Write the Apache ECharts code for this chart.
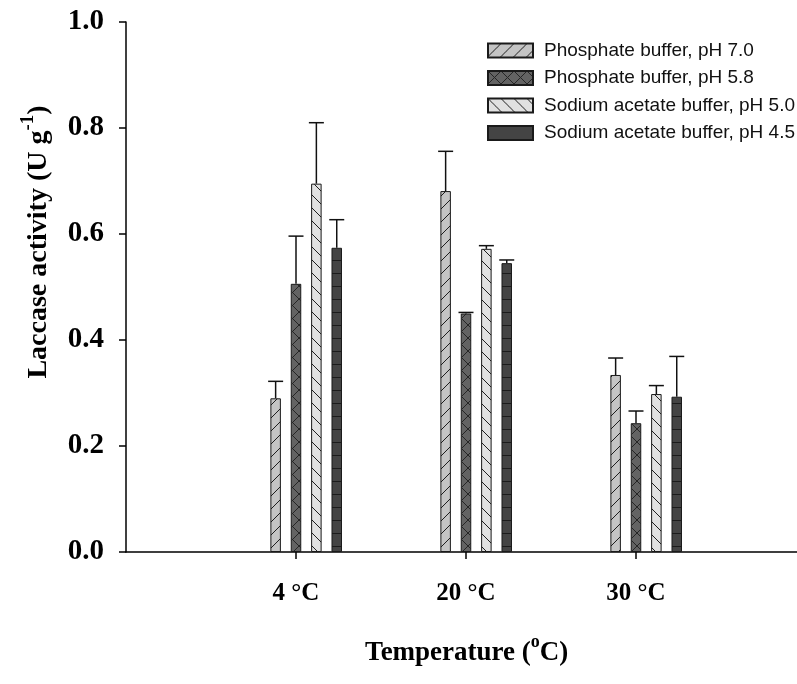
<!DOCTYPE html>
<html><head><meta charset="utf-8">
<script src="https://cdn.jsdelivr.net/npm/echarts@6/dist/echarts.min.js"></script>
<style>html,body{margin:0;padding:0;background:#fff}#c{width:797px;height:684px}</style>
</head><body><div id="c"></div>
<script>
// ---- data ----
const categories = ['4 °C', '20 °C', '30 °C'];
const seriesNames = ['Phosphate buffer, pH 7.0', 'Phosphate buffer, pH 5.8', 'Sodium acetate buffer, pH 5.0', 'Sodium acetate buffer, pH 4.5'];
const phos70 = [0.290, 0.681, 0.334];
const phos70Err = [0.032, 0.075, 0.032];
const phos58 = [0.506, 0.450, 0.243];
const phos58Err = [0.090, 0.002, 0.023];
const sod50 = [0.695, 0.572, 0.298];
const sod50Err = [0.115, 0.006, 0.016];
const sod45 = [0.574, 0.545, 0.293];
const sod45Err = [0.053, 0.006, 0.076];
const yMin = 0, yMax = 1.0, yStep = 0.2;

// ---- patterns ----
const P = 13;
function makePattern(bg, lineColor, draw) {
  const c = document.createElement('canvas');
  c.width = P; c.height = P;
  const g = c.getContext('2d');
  g.fillStyle = bg; g.fillRect(0, 0, P, P);
  g.strokeStyle = lineColor; g.lineWidth = 1;
  g.beginPath(); draw(g); g.stroke();
  return { image: c, repeat: 'repeat' };
}
function fwd(g) { g.moveTo(-1, P + 1); g.lineTo(P + 1, -1); g.moveTo(-2, 2); g.lineTo(2, -2); g.moveTo(P - 2, P + 2); g.lineTo(P + 2, P - 2); }
function back(g) { g.moveTo(-1, -1); g.lineTo(P + 1, P + 1); g.moveTo(P - 2, -2); g.lineTo(P + 2, 2); g.moveTo(-2, P - 2); g.lineTo(2, P + 2); }
const patterns = [
  makePattern('#c4c4c4', '#1e1e1e', fwd),
  makePattern('#636363', '#262626', g => { fwd(g); back(g); }),
  makePattern('#e1e1e1', '#1e1e1e', back),
  makePattern('#444444', '#1c1c1c', g => { g.moveTo(0, 0.5); g.lineTo(P, 0.5); })
];

const values = [phos70, phos58, sod50, sod45];
const errors = [phos70Err, phos58Err, sod50Err, sod45Err];

const BAR_W = 10.5, BAR_GAP = 0.94;
const pitch = BAR_W * (1 + BAR_GAP);
const pad = v => ['-'].concat(v, ['-']);

const series = [{
  name: '_pad', type: 'bar', barWidth: BAR_W, barGap: (BAR_GAP * 100) + '%',
  data: pad(categories.map(() => '-')), silent: true, itemStyle: { opacity: 0 }
}];
values.forEach((v, k) => {
  series.push({
    name: seriesNames[k], type: 'bar', barWidth: BAR_W, barGap: (BAR_GAP * 100) + '%',
    data: pad(v),
    itemStyle: { color: patterns[k], borderColor: '#1a1a1a', borderWidth: 1 },
    z: 2
  });
});
values.forEach((v, k) => {
  const offset = (k + 1 - 2) * pitch;
  series.push({
    name: 'err' + k, type: 'custom', z: 3, silent: true,
    data: v.map((y, i) => [i + 1, y, errors[k][i]]),
    renderItem(params, api) {
      const xi = api.value(0), y = api.value(1), e = api.value(2);
      const b = api.coord([xi, y]);
      const t = api.coord([xi, y + e]);
      const x = b[0] + offset;
      const st = { stroke: '#111', lineWidth: 1.5 };
      return { type: 'group', children: [
        { type: 'line', shape: { x1: x, y1: b[1], x2: x, y2: t[1] }, style: st },
        { type: 'line', shape: { x1: x - 7.5, y1: t[1], x2: x + 7.5, y2: t[1] }, style: st }
      ]};
    }
  });
});

const serif = "'Liberation Serif', 'Times New Roman', serif";
const chart = echarts.init(document.getElementById('c'), null, { renderer: 'canvas' });
chart.setOption({
  animation: false,
  backgroundColor: '#fff',
  grid: { left: 126, top: 22, width: 680, height: 530, containLabel: false, outerBoundsMode: 'none' },
  legend: {
    data: seriesNames, orient: 'vertical', left: 482, top: 36,
    itemWidth: 45, itemHeight: 14, itemGap: 8.5, icon: 'rect',
    textStyle: { fontFamily: "'Liberation Sans', Arial, sans-serif", fontSize: 19, lineHeight: 19, color: '#111', padding: [0, 0, 0, 6] }
  },
  xAxis: {
    type: 'category', boundaryGap: false, data: [''].concat(categories, ['']),
    axisLine: { show: true, lineStyle: { color: '#000', width: 1.5 } },
    axisTick: { show: true, length: 7, interval: (i) => i > 0 && i <= categories.length, lineStyle: { color: '#000', width: 1.5 } },
    axisLabel: { interval: 0, margin: 29, fontFamily: serif, fontWeight: 'bold', fontSize: 25, color: '#000' },
    splitLine: { show: false }
  },
  yAxis: {
    type: 'value', min: yMin, max: yMax, interval: yStep,
    axisLine: { show: true, lineStyle: { color: '#000', width: 1.5 } },
    axisTick: { show: true, length: 7, lineStyle: { color: '#000', width: 1.5 } },
    axisLabel: { margin: 22, fontFamily: serif, fontWeight: 'bold', fontSize: 29, color: '#000', formatter: v => v.toFixed(1) },
    splitLine: { show: false }
  },
  graphic: [
    {
      type: 'text', x: 36, y: 242, rotation: Math.PI / 2,
      style: {
        text: '{a|Laccase activity (U g}{s|-1}{a|)}',
        align: 'center', verticalAlign: 'middle',
        rich: {
          a: { fontFamily: serif, fontWeight: 'bold', fontSize: 28, lineHeight: 34, verticalAlign: 'bottom', fill: '#000' },
          s: { fontFamily: serif, fontWeight: 'bold', fontSize: 19, lineHeight: 20, verticalAlign: 'top', fill: '#000' }
        }
      }
    },
    {
      type: 'text', x: 466.7, y: 650,
      style: {
        text: '{a|Temperature (}{s|o}{a|C)}',
        align: 'center', verticalAlign: 'middle',
        rich: {
          a: { fontFamily: serif, fontWeight: 'bold', fontSize: 27, lineHeight: 33, verticalAlign: 'bottom', fill: '#000' },
          s: { fontFamily: serif, fontWeight: 'bold', fontSize: 18, lineHeight: 19, verticalAlign: 'top', fill: '#000' }
        }
      }
    }
  ],
  series: series
});
</script>
</body></html>
